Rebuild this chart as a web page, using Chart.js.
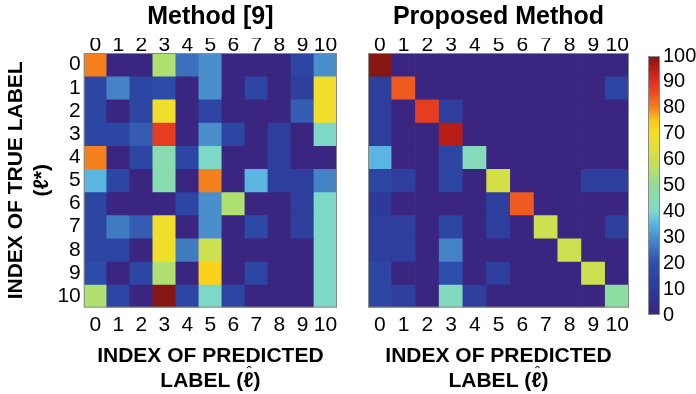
<!DOCTYPE html>
<html>
<head>
<meta charset="utf-8">
<script src="https://cdn.jsdelivr.net/npm/chart.js@4.4.1/dist/chart.umd.min.js"></script>
<style>
  body { margin: 0; background: #fff; width: 696px; height: 394px; position: relative; overflow: hidden; }
  canvas { position: absolute; top: 0; }
</style>
</head>
<body>
<canvas id="leftChart" width="345" height="394" style="left:0"></canvas>
<canvas id="rightChart" width="295" height="394" style="left:345px"></canvas>
<canvas id="barChart" width="59" height="394" style="left:637px"></canvas>
<script>
// class indices, used for both axes
var classes = ["0", "1", "2", "3", "4", "5", "6", "7", "8", "9", "10"];

// rows = true label, columns = predicted label (percent)
var method9 = [
  [80, 0, 0, 55, 25, 30, 0, 0, 0, 15, 30],
  [15, 28, 15, 18, 0, 30, 0, 15, 0, 12, 68],
  [15, 0, 15, 68, 0, 15, 0, 0, 0, 22, 68],
  [15, 15, 22, 88, 0, 30, 15, 0, 12, 0, 40],
  [80, 0, 15, 45, 15, 40, 0, 0, 12, 0, 0],
  [35, 15, 0, 45, 0, 80, 0, 35, 12, 12, 28],
  [15, 0, 0, 0, 15, 30, 55, 0, 0, 12, 40],
  [15, 27, 22, 68, 0, 30, 0, 17, 0, 12, 40],
  [15, 15, 0, 68, 27, 60, 0, 0, 0, 0, 40],
  [18, 0, 15, 55, 0, 73, 0, 15, 0, 0, 40],
  [55, 15, 0, 99, 15, 40, 15, 0, 0, 0, 40]
];

var proposed = [
  [99, 0, 0, 0, 0, 0, 0, 0, 0, 0, 0],
  [12, 84, 0, 0, 0, 0, 0, 0, 0, 0, 15],
  [12, 0, 88, 12, 0, 0, 0, 0, 0, 0, 0],
  [12, 0, 0, 95, 0, 0, 0, 0, 0, 0, 0],
  [35, 0, 0, 15, 43, 0, 0, 0, 0, 0, 0],
  [15, 12, 0, 15, 0, 62, 0, 0, 0, 12, 12],
  [10, 0, 0, 0, 0, 12, 84, 0, 0, 0, 0],
  [12, 12, 0, 15, 0, 12, 0, 60, 0, 0, 12],
  [12, 12, 0, 28, 0, 0, 0, 0, 60, 0, 0],
  [15, 0, 0, 20, 0, 12, 0, 0, 0, 60, 0],
  [15, 12, 0, 42, 12, 0, 0, 0, 0, 0, 48]
];

var colorbarTicks = [0, 10, 20, 30, 40, 50, 60, 70, 80, 90, 100];

// colormap stops, value -> rgb
var cmap = [
  [0, [58, 38, 128]], [10, [45, 58, 154]], [20, [45, 79, 171]], [30, [74, 143, 204]],
  [35, [90, 181, 224]], [40, [125, 216, 200]], [45, [136, 220, 176]], [50, [144, 220, 152]],
  [55, [176, 224, 112]], [60, [204, 224, 80]], [70, [248, 222, 32]], [75, [252, 200, 24]],
  [80, [245, 128, 30]], [85, [238, 80, 32]], [90, [224, 48, 32]], [95, [184, 28, 22]],
  [100, [122, 21, 16]]
];

function colorOf(v) {
  for (var i = 1; i < cmap.length; i++) {
    if (v <= cmap[i][0]) {
      var a = cmap[i - 1], b = cmap[i];
      var t = (v - a[0]) / (b[0] - a[0]);
      var c = a[1].map(function (x, k) { return Math.round(x + (b[1][k] - x) * t); });
      return "rgb(" + c.join(",") + ")";
    }
  }
  return "rgb(122,21,16)";
}

var FONT = "'Liberation Sans', Arial, sans-serif";
var xTitle = ["INDEX OF PREDICTED", "LABEL (\u2113)"];

// grey box round the plot area
var frame = {
  id: "frame",
  afterDraw: function (chart) {
    var a = chart.chartArea, ctx = chart.ctx;
    ctx.save();
    ctx.strokeStyle = "#8a8a8a";
    ctx.lineWidth = 1;
    ctx.strokeRect(a.left + 0.5, a.top + 0.5, a.right - a.left - 1, a.bottom - a.top - 1);
    ctx.restore();
  }
};

// the hat over the l in the x title (combining marks do not render here)
var hat = {
  id: "hat",
  afterDraw: function (chart) {
    var s = chart.scales.x, ctx = chart.ctx;
    ctx.save();
    ctx.font = "bold 21px " + FONT;
    var line = xTitle[1];
    var w = ctx.measureText(line).width;
    var pre = ctx.measureText("LABEL (").width;
    var ell = ctx.measureText("\u2113").width;
    var cx = (s.left + s.right) / 2 - w / 2 + pre + ell / 2 + 1;
    var cy = s.bottom - 12.6;
    ctx.font = "15px " + FONT;
    ctx.fillStyle = "#000";
    ctx.textAlign = "center";
    ctx.textBaseline = "middle";
    ctx.fillText("\u02C6", cx, cy - 9);
    ctx.restore();
  }
};

var tickFont = { family: FONT, size: 21, lineHeight: 1 };
var axisFont = { family: FONT, size: 21, weight: "bold", lineHeight: 1.2 };

function matrixChart(id, title, values, showY, pad) {
  var datasets = values.map(function (row, r) {
    return {
      data: row.map(function () { return [r - 0.5, r + 0.5]; }),
      backgroundColor: row.map(colorOf),
      borderWidth: 0,
      grouped: false,
      barPercentage: 1,
      categoryPercentage: 1
    };
  });
  return new Chart(document.getElementById(id), {
    type: "bar",
    data: { labels: classes, datasets: datasets },
    options: {
      responsive: false,
      animation: false,
      layout: { padding: pad },
      plugins: {
        legend: { display: false },
        tooltip: { enabled: false },
        title: {
          display: true, text: title, color: "#000", fullSize: false,
          font: { family: FONT, size: 25, weight: "bold", lineHeight: 1.2 },
          padding: { top: 2, bottom: 6 }
        }
      },
      scales: {
        x: {
          type: "category",
          grid: { display: false, drawTicks: false }, border: { display: false },
          ticks: { color: "#000", font: tickFont, padding: 7, maxRotation: 0, autoSkip: false },
          title: { display: true, text: xTitle, color: "#000", font: axisFont, padding: { top: 1, bottom: 0 } }
        },
        x2: {
          type: "category", position: "top", labels: classes,
          grid: { display: false, drawTicks: false }, border: { display: false },
          ticks: { color: "#000", font: tickFont, padding: -3, maxRotation: 0, autoSkip: false }
        },
        y: {
          type: "linear", reverse: true, min: -0.5, max: 10.5,
          display: showY,
          afterBuildTicks: function (axis) { axis.ticks = classes.map(function (c) { return { value: +c }; }); },
          grid: { display: false, drawTicks: false }, border: { display: false },
          ticks: { color: "#000", font: tickFont, padding: 3 },
          title: { display: true, text: ["INDEX OF TRUE LABEL", "(\u2113*)"], color: "#000", font: axisFont, padding: { top: 2, bottom: 0 } }
        }
      }
    },
    plugins: [frame, hat]
  });
}

matrixChart("leftChart", "Method [9]", method9, true, { left: 2, right: 8, top: 0, bottom: 0 });
matrixChart("rightChart", "Proposed Method", proposed, false, { left: 23, right: 11, top: 0, bottom: 0 });

// colorbar: one thin floating bar per step of the colour scale
var steps = [];
for (var v = 0; v < 100; v++) steps.push(v);
new Chart(document.getElementById("barChart"), {
  type: "bar",
  data: {
    labels: [""],
    datasets: steps.map(function (v) {
      return { data: [[v, v + 1]], backgroundColor: colorOf(v + 0.5), borderWidth: 0, grouped: false, barPercentage: 1, categoryPercentage: 1 };
    })
  },
  options: {
    responsive: false,
    animation: false,
    layout: { padding: { left: 11, right: 0, top: 56, bottom: 79 } },
    plugins: { legend: { display: false }, tooltip: { enabled: false } },
    scales: {
      x: { display: false },
      y: {
        position: "right", min: 0, max: 100,
        afterBuildTicks: function (axis) { axis.ticks = colorbarTicks.map(function (t) { return { value: t }; }); },
        afterFit: function (axis) { axis.width = 36; },
        grid: { display: false, drawTicks: false }, border: { display: false },
        ticks: { color: "#000", font: { family: FONT, size: 20 }, padding: 3, autoSkip: false }
      }
    }
  },
  plugins: [frame]
});
</script>
</body>
</html>
